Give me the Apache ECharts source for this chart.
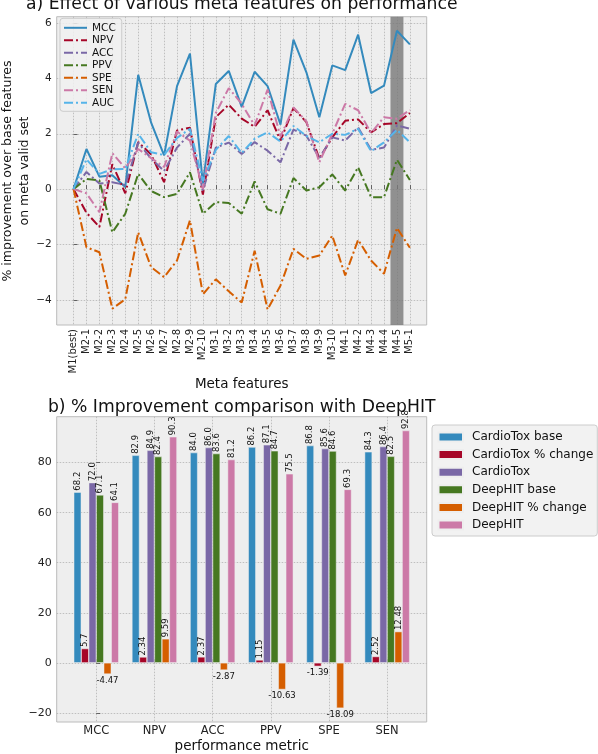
<!DOCTYPE html>
<html><head><meta charset="utf-8">
<script src="https://cdn.jsdelivr.net/npm/echarts@6/dist/echarts.min.js"></script>
<style>html,body{margin:0;padding:0;background:#fff}#c{width:598px;height:754px}</style>
</head><body><div id="c"></div>
<script>
// ---------- top chart data ----------
const metaFeatures = ['M1(best)','M2-1','M2-2','M2-3','M2-4','M2-5','M2-6','M2-7','M2-8','M2-9','M2-10',
  'M3-1','M3-2','M3-3','M3-4','M3-5','M3-6','M3-7','M3-8','M3-9','M3-10',
  'M4-1','M4-2','M4-3','M4-4','M4-5','M5-1'];
const lineNames = ['MCC','NPV','ACC','PPV','SPE','SEN','AUC'];
const mcc = [0, 1.45, 0.45, 0.5, 0.08, 4.13, 2.4, 1.22, 3.72, 4.9, 0.2, 3.8, 4.27, 2.97, 4.24, 3.72, 2.33, 5.4, 4.22, 2.6, 4.47, 4.3, 5.58, 3.47, 3.74, 5.72, 5.23];
const npv = [0, -0.85, -1.37, 0.9, -0.15, 1.7, 1.25, 0.25, 2.12, 2.22, -0.2, 2.6, 3.05, 2.55, 2.25, 2.85, 1.75, 2.93, 2.42, 1.1, 1.87, 2.47, 2.52, 2.05, 2.35, 2.38, 2.75];
const acc = [0, 0.62, 0.2, 0.25, 0.15, 1.68, 1.1, 0.65, 1.5, 2.0, -0.05, 1.5, 1.68, 1.27, 1.7, 1.39, 0.97, 2.15, 1.93, 1.12, 1.87, 1.75, 2.23, 1.42, 1.5, 2.3, 2.18];
const ppv = [0, 0.37, 0.31, -1.56, -0.89, 0.55, -0.07, -0.29, -0.17, 0.61, -0.89, -0.47, -0.5, -0.89, 0.28, -0.73, -0.89, 0.4, -0.05, 0.07, 0.53, -0.05, 0.79, -0.29, -0.29, 1.06, 0.33];
const spe = [0, -2.1, -2.28, -4.32, -3.98, -1.56, -2.82, -3.18, -2.58, -1.13, -3.8, -3.26, -3.69, -4.1, -2.23, -4.35, -3.48, -2.16, -2.52, -2.4, -1.68, -3.12, -1.83, -2.58, -3.06, -1.4, -2.12];
const sen = [0, -0.15, -0.83, 1.3, 0.75, 1.45, 1.12, 0.8, 2.08, 1.75, 0.0, 2.75, 3.65, 3.08, 2.3, 3.6, 1.9, 2.95, 2.45, 0.97, 2.0, 3.08, 2.85, 2.03, 2.6, 2.54, 2.86];
const auc = [0, 1.08, 0.55, 0.72, 0.73, 2.0, 1.33, 1.23, 1.85, 2.18, 0.3, 1.42, 1.92, 1.3, 1.82, 2.05, 1.72, 2.28, 1.92, 1.69, 2.0, 1.96, 2.18, 1.37, 1.69, 2.14, 1.69];
const topYTicks = [-4, -2, 0, 2, 4, 6];
const highlightFeature = 'M4-5';

// ---------- bottom chart data ----------
const metrics = ['MCC','NPV','ACC','PPV','SPE','SEN'];
const barNames = ['CardioTox base','CardioTox % change','CardioTox','DeepHIT base','DeepHIT % change','DeepHIT'];
const cardioBase = [68.2, 82.9, 84.0, 86.2, 86.8, 84.3];
const cardioChange = [5.7, 2.34, 2.37, 1.15, -1.39, 2.52];
const cardio = [72.0, 84.9, 86.0, 87.1, 85.6, 86.4];
const deepBase = [67.1, 82.4, 83.6, 84.7, 84.6, 82.5];
const deepChange = [-4.47, 9.59, -2.87, -10.63, -18.09, 12.48];
const deep = [64.1, 90.3, 81.2, 75.5, 69.3, 92.8];
const bottomYTicks = [-20, 0, 20, 40, 60, 80];

// ---------- styling ----------
const FONT = 'DejaVu Sans';
const lineColors = ['#348ABD','#A60628','#7A68A6','#467821','#D55E00','#CC79A7','#56B4E9'];
const barColors = ['#348ABD','#A60628','#7A68A6','#467821','#D55E00','#CC79A7'];
const DASHDOT = [9, 3, 2, 3];
const minusFmt = v => (v < 0 ? '\u2212' + (-v) : String(v));
const gridLine = { show: true, lineStyle: { color: '#b2b2b2', type: [1.5, 1.5], width: 0.8 } };
const tickStyle = { show: true, inside: true, length: 4, lineStyle: { color: '#444', width: 0.8 } };

const topIdx = metaFeatures.map((_, i) => i);
const metricIdx = metrics.map((_, i) => i);
const lineSeriesData = [mcc, npv, acc, ppv, spe, sen, auc];
const hIdx = metaFeatures.indexOf(highlightFeature);

const lineSeries = lineNames.map((name, k) => {
  const s = {
    name, type: 'line', xAxisIndex: 0, yAxisIndex: 0,
    data: lineSeriesData[k].map((v, i) => [i, v]),
    symbol: 'none', showSymbol: false, z: 3,
    lineStyle: { color: lineColors[k], width: 2, type: k === 0 ? 'solid' : DASHDOT, cap: 'butt' },
    itemStyle: { color: lineColors[k] }
  };
  if (k === 0) {
    s.markArea = {
      silent: true,
      itemStyle: { color: 'rgba(120,120,120,0.8)' },
      data: [[{ xAxis: hIdx - 0.5 }, { xAxis: hIdx + 0.5 }]]
    };
  }
  return s;
});

const barData = [cardioBase, cardioChange, cardio, deepBase, deepChange, deep];
const isChange = [false, true, false, false, true, false];
const posLabel = { show: true, position: 'top', distance: 1.5, rotate: 90, align: 'left', verticalAlign: 'middle' };
const negLabel = { show: true, position: 'bottom', distance: 2, rotate: 0, align: 'center', verticalAlign: 'top' };
const barSeries = barNames.map((name, k) => ({
  name, type: 'bar', xAxisIndex: 1, yAxisIndex: 1,
  barWidth: 7.5, barGap: '0%',
  itemStyle: { color: barColors[k], borderColor: '#eeeeee', borderWidth: 0.5 },
  label: { fontFamily: FONT, fontSize: 8.5, color: '#111',
    formatter: p => isChange[k] ? String(p.value[1]) : p.value[1].toFixed(1) },
  data: barData[k].map((v, i) => ({ value: [i, v], label: v >= 0 ? posLabel : negLabel }))
}));

const chart = echarts.init(document.getElementById('c'), null, { renderer: 'canvas' });
chart.setOption({
  animation: false,
  backgroundColor: '#ffffff',
  textStyle: { fontFamily: FONT },
  title: [
    { text: 'a) Effect of various meta features on performance', left: 241.7, top: -4, textAlign: 'center', padding: 0,
      textStyle: { fontFamily: FONT, fontSize: 17.2, fontWeight: 'normal', color: '#111' } },
    { text: 'b) % Improvement comparison with DeepHIT', left: 241.7, top: 399, textAlign: 'center', padding: 0,
      textStyle: { fontFamily: FONT, fontSize: 17.2, fontWeight: 'normal', color: '#111' } }
  ],
  grid: [
    { left: 56.7, top: 16.7, width: 370, height: 308.3, show: true, backgroundColor: '#eeeeee', borderColor: '#bcbcbc', borderWidth: 1 },
    { left: 56.7, top: 416.7, width: 370, height: 308.3, show: true, backgroundColor: '#eeeeee', borderColor: '#bcbcbc', borderWidth: 1 }
  ],
  legend: [
    { data: lineNames, orient: 'vertical', left: 60, top: 18.3, padding: [4, 6, 3, 3], itemGap: 1.5,
      itemWidth: 23, itemHeight: 8, itemStyle: { opacity: 0 },
      backgroundColor: 'rgba(240,240,240,0.85)', borderColor: '#cccccc', borderWidth: 1, borderRadius: 3,
      textStyle: { fontFamily: FONT, fontSize: 10.5, color: '#111' } },
    { data: barNames, orient: 'vertical', left: 432, top: 425, padding: [6, 4, 5, 5.5], itemGap: 5.6,
      itemWidth: 24.5, itemHeight: 9, icon: 'rect', backgroundColor: 'rgba(240,240,240,0.85)', borderColor: '#cccccc', borderWidth: 1, borderRadius: 3,
      textStyle: { fontFamily: FONT, fontSize: 12, color: '#111', padding: [0, 0, 0, 4] } }
  ],
  xAxis: [
    { type: 'value', gridIndex: 0, min: -1.3, max: 27.3,
      name: 'Meta features', nameLocation: 'middle', nameGap: 50,
      nameTextStyle: { fontFamily: FONT, fontSize: 13.5, color: '#111' },
      axisLine: { show: false },
      axisTick: Object.assign({ customValues: topIdx }, tickStyle),
      splitLine: gridLine,
      axisLabel: { customValues: topIdx, rotate: 90, margin: 4, fontFamily: FONT, fontSize: 10, color: '#222',
        formatter: v => metaFeatures[Math.round(v)] } },
    { type: 'value', gridIndex: 1, min: -0.68, max: 5.68,
      name: 'performance metric', nameLocation: 'middle', nameGap: 17,
      nameTextStyle: { fontFamily: FONT, fontSize: 13.5, color: '#111' },
      axisLine: { show: false },
      axisTick: Object.assign({ customValues: metricIdx }, tickStyle),
      splitLine: gridLine,
      axisLabel: { customValues: metricIdx, margin: 3, fontFamily: FONT, fontSize: 11.5, color: '#222',
        formatter: v => metrics[Math.round(v)] } }
  ],
  yAxis: [
    { type: 'value', gridIndex: 0, min: -4.91, max: 6.23,
      axisLine: { show: false },
      axisTick: Object.assign({ customValues: topYTicks }, tickStyle),
      splitLine: gridLine,
      axisLabel: { customValues: topYTicks, margin: 5, fontFamily: FONT, fontSize: 10.5, color: '#222', formatter: minusFmt } },
    { type: 'value', gridIndex: 1, min: -23.63, max: 98.34,
      axisLine: { show: false },
      axisTick: Object.assign({ customValues: bottomYTicks }, tickStyle),
      splitLine: gridLine,
      axisLabel: { customValues: bottomYTicks, margin: 5, fontFamily: FONT, fontSize: 11, color: '#222', formatter: minusFmt } }
  ],
  graphic: [
    { type: 'text', x: 16.5, y: 171, rotation: Math.PI / 2,
      style: { text: '% improvement over base features\non meta valid set', fontFamily: FONT, fontSize: 12.5,
        lineHeight: 17, fill: '#111', align: 'center', verticalAlign: 'middle' } }
  ],
  series: lineSeries.concat(barSeries)
});
</script></body></html>
